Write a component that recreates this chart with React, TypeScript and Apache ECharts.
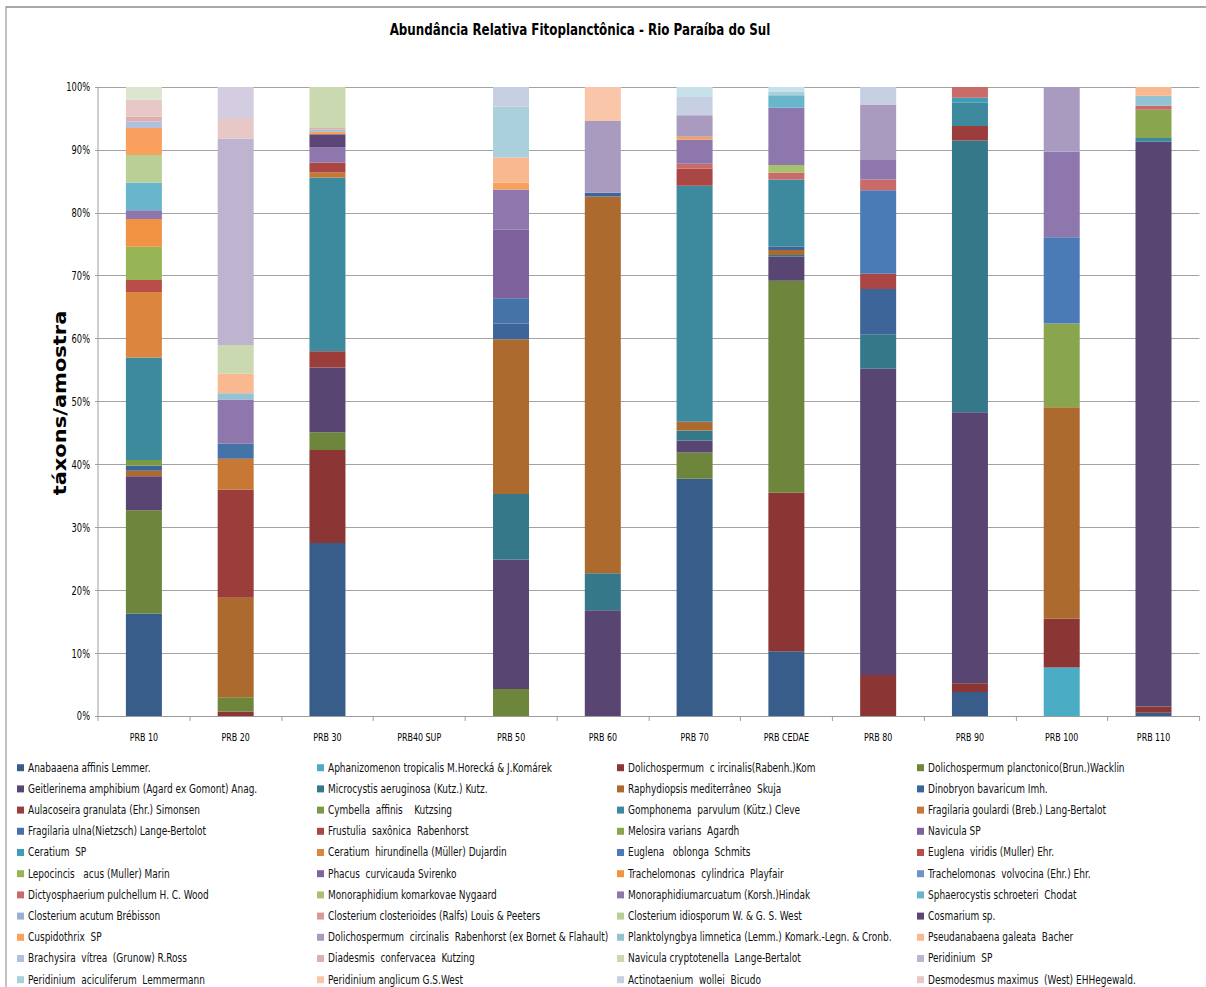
import React, { useEffect, useRef } from 'react';
import * as echarts from 'echarts';

const NARROW = "'DejaVu Sans Condensed', 'Liberation Sans Narrow', 'Noto Sans', sans-serif";

// the original figure is horizontally compressed; draw wider and squeeze
const SQUEEZE = 0.8;
const PAGE_W = 1206;
const PAGE_H = 987;
const px = (v: number) => v / SQUEEZE;

const chartTitle = 'Abundância Relativa Fitoplanctônica - Rio Paraíba do Sul';
const yAxisTitle = 'táxons/amostra';

const categories = [
  'PRB 10', 'PRB 20', 'PRB 30', 'PRB40 SUP', 'PRB 50', 'PRB 60',
  'PRB 70', 'PRB CEDAE', 'PRB 80', 'PRB 90', 'PRB 100', 'PRB 110',
];

const yTickValues = [0, 10, 20, 30, 40, 50, 60, 70, 80, 90, 100];

const speciesNames = [
  'Anabaaena affinis Lemmer.',
  'Aphanizomenon tropicalis M.Horecká & J.Komárek',
  'Dolichospermum  c ircinalis(Rabenh.)Kom',
  'Dolichospermum planctonico(Brun.)Wacklin',
  'Geitlerinema amphibium (Agard ex Gomont) Anag.',
  'Microcystis aeruginosa (Kutz.) Kutz.',
  'Raphydiopsis mediterrâneo  Skuja',
  'Dinobryon bavaricum Imh.',
  'Aulacoseira granulata (Ehr.) Simonsen',
  'Cymbella  affinis    Kutzsing',
  'Gomphonema  parvulum (Kütz.) Cleve',
  'Fragilaria goulardi (Breb.) Lang-Bertalot',
  'Fragilaria ulna(Nietzsch) Lange-Bertolot',
  'Frustulia  saxônica  Rabenhorst',
  'Melosira varians  Agardh',
  'Navicula SP',
  'Ceratium  SP',
  'Ceratium  hirundinella (Müller) Dujardin',
  'Euglena   oblonga  Schmits',
  'Euglena  viridis (Muller) Ehr.',
  'Lepocincis   acus (Muller) Marin',
  'Phacus  curvicauda Svirenko',
  'Trachelomonas  cylindrica  Playfair',
  'Trachelomonas  volvocina (Ehr.) Ehr.',
  'Dictyosphaerium pulchellum H. C. Wood',
  'Monoraphidium komarkovae Nygaard',
  'Monoraphidiumarcuatum (Korsh.)Hindak',
  'Sphaerocystis schroeteri  Chodat',
  'Closterium acutum Brébisson',
  'Closterium closterioides (Ralfs) Louis & Peeters',
  'Closterium idiosporum W. & G. S. West',
  'Cosmarium sp.',
  'Cuspidothrix  SP',
  'Dolichospermum  circinalis  Rabenhorst (ex Bornet & Flahault)',
  'Planktolyngbya limnetica (Lemm.) Komark.-Legn. & Cronb.',
  'Pseudanabaena galeata  Bacher',
  'Brachysira  vítrea  (Grunow) R.Ross',
  'Diadesmis  confervacea  Kutzing',
  'Navicula cryptotenella  Lange-Bertalot',
  'Peridinium  SP',
  'Peridinium  aciculiferum  Lemmermann',
  'Peridinium anglicum G.S.West',
  'Actinotaenium  wollei  Bicudo',
  'Desmodesmus maximus  (West) EHHegewald.',
];

// series whose legend row is cut off at the bottom of the picture
const hiddenNames = ['série 45', 'série 46', 'série 47'];

const speciesColors = [
  '#385D8A', '#4BACC6', '#8B3634', '#6D863B',
  '#584572', '#35788A', '#AD6A2E', '#3D6599',
  '#9A3D3B', '#7B9A45', '#3D8A9F', '#C77834',
  '#4572A7', '#AA4644', '#89A54E', '#7E629E',
  '#3E9EB5', '#DC853F', '#4A7BB7', '#B94D4A',
  '#98B556', '#8064A2', '#F29243', '#6F92C8',
  '#C96B69', '#A7C16F', '#8D77AC', '#69B5CC',
  '#98AFD6', '#D79A98', '#B9CF96', '#5B4677',
  '#F9A05E', '#A99BC0', '#93C3D3', '#F9B88F',
  '#B1C0DE', '#DDB0AF', '#CBD9B1', '#BFB4CF',
  '#AAD0DC', '#FAC6A9', '#C7D0E3', '#E8C7C7',
  '#DCE6CF', '#D4CDE1', '#C6E1E8',
];

// relative abundance (%) per species, columns follow `categories`
const abundance: number[][] = [
  [16.3, 0, 27.5, 0, 0, 0, 37.7, 10.3, 0, 3.8, 0, 0.5],
  [0, 0, 0, 0, 0, 0, 0, 0, 0, 0, 7.7, 0],
  [0, 0.7, 14.8, 0, 0, 0, 0, 25.2, 6.5, 1.4, 7.8, 1.0],
  [16.4, 2.3, 2.8, 0, 4.3, 0, 4.2, 33.7, 0, 0, 0, 0],
  [5.4, 0, 10.3, 0, 20.6, 16.8, 1.9, 3.8, 48.7, 43.1, 0, 89.8],
  [0, 0, 0, 0, 10.4, 5.9, 1.6, 0.3, 5.5, 43.2, 0, 0],
  [0.9, 15.8, 0, 0, 24.6, 59.9, 1.4, 0.8, 0, 0, 33.6, 0],
  [0.8, 0, 0, 0, 2.5, 0.6, 0, 0.5, 7.2, 0, 0, 0],
  [0, 17.2, 2.6, 0, 0, 0, 0, 0, 0, 2.3, 0, 0],
  [0.9, 0, 0, 0, 0, 0, 0, 0, 0, 0, 0, 0],
  [16.3, 0, 27.6, 0, 0, 0, 37.5, 10.7, 0, 3.7, 0, 0.6],
  [0, 4.9, 0.8, 0, 0, 0, 0, 0, 0, 0, 0, 0],
  [0, 2.4, 0, 0, 4.0, 0, 0, 0, 0, 0, 0, 0],
  [0, 0, 1.6, 0, 0, 0, 2.7, 0, 2.4, 0, 0, 0],
  [0, 0, 0, 0, 0, 0, 0, 0, 0, 0, 13.3, 4.5],
  [0, 0, 0, 0, 10.9, 0, 0, 0, 0, 0, 0, 0],
  [0, 0, 0, 0, 0, 0, 0, 0, 0, 0.8, 0, 0],
  [10.4, 0, 0, 0, 0, 0, 0, 0, 0, 0, 0, 0],
  [0, 0, 0, 0, 0, 0, 0, 0, 13.3, 0, 13.7, 0],
  [1.9, 0, 0, 0, 0, 0, 0, 0, 0, 0, 0, 0],
  [5.3, 0, 0, 0, 0, 0, 0, 0, 0, 0, 0, 0],
  [0, 0, 0, 0, 0, 0, 0, 0, 0, 0, 0, 0],
  [4.4, 0, 0, 0, 0, 0, 0, 0, 0, 0, 0, 0],
  [0, 0, 0, 0, 0, 0, 0, 0, 0, 0, 0, 0],
  [0, 0, 0, 0, 0, 0, 0.8, 1.1, 1.7, 1.7, 0, 0.6],
  [0, 0, 0, 0, 0, 0, 0, 1.2, 0, 0, 0, 0],
  [1.4, 7.0, 2.4, 0, 6.4, 0, 3.8, 9.1, 3.1, 0, 13.6, 0],
  [4.4, 0, 0, 0, 0, 0, 0, 2.0, 0, 0, 0, 0],
  [0, 0, 0, 0, 0, 0, 0, 0, 0, 0, 0, 0],
  [0, 0, 0, 0, 0, 0, 0, 0, 0, 0, 0, 0],
  [4.4, 0, 0, 0, 0, 0, 0, 0, 0, 0, 0, 0],
  [0, 0, 2.1, 0, 0, 0, 0, 0, 0, 0, 0, 0],
  [4.3, 0, 0.4, 0, 1.1, 0, 0.5, 0, 0, 0, 0, 0],
  [0, 0, 0, 0, 0, 11.4, 3.4, 0, 8.8, 0, 10.3, 0],
  [0, 1.0, 0.3, 0, 0, 0, 0, 0, 0, 0, 0, 1.6],
  [0, 3.1, 0, 0, 4.0, 0, 0, 0, 0, 0, 0, 1.4],
  [1.0, 0, 0, 0, 0, 0, 0, 0, 0, 0, 0, 0],
  [0.8, 0, 0.3, 0, 0, 0, 0, 0, 0, 0, 0, 0],
  [0, 4.6, 6.5, 0, 0, 0, 0, 0, 0, 0, 0, 0],
  [0, 32.8, 0, 0, 0, 0, 0, 0, 0, 0, 0, 0],
  [0, 0, 0, 0, 8.1, 0, 0, 0.6, 0, 0, 0, 0],
  [0, 0, 0, 0, 0, 5.4, 0, 0, 0, 0, 0, 0],
  [0, 0, 0, 0, 3.1, 0, 2.9, 0, 2.8, 0, 0, 0],
  [2.7, 3.1, 0, 0, 0, 0, 0, 0, 0, 0, 0, 0],
  [2.0, 0, 0, 0, 0, 0, 0, 0, 0, 0, 0, 0],
  [0, 5.1, 0, 0, 0, 0, 0, 0, 0, 0, 0, 0],
  [0, 0, 0, 0, 0, 0, 1.6, 0.7, 0, 0, 0, 0],
];

export default function App() {
  const ref = useRef<HTMLDivElement>(null);

  useEffect(() => {
    if (!ref.current) return;
    const chart = echarts.init(ref.current, null, { renderer: 'svg' });
    const allNames = [...speciesNames, ...hiddenNames];

    const series = allNames.map((name, i) => ({
      name,
      type: 'bar',
      stack: 'total',
      barWidth: px(36),
      data: abundance[i],
      itemStyle: { color: speciesColors[i] },
      emphasis: { disabled: true },
    }));

    const legends = [0, 1, 2, 3].map((c) => ({
      orient: 'vertical',
      left: px(17 + 300 * c),
      top: 760.7,
      itemWidth: px(7),
      itemHeight: 7,
      itemGap: 7.2,
      icon: 'rect',
      padding: 0,
      selectedMode: false,
      textStyle: { fontFamily: NARROW, fontSize: 12.5, color: '#111', lineHeight: 14 },
      data: speciesNames.filter((_, i) => i % 4 === c),
    }));

    chart.setOption({
      animation: false,
      backgroundColor: '#ffffff',
      grid: { left: px(98), right: px(7), top: 87, bottom: 271, containLabel: false },
      legend: legends,
      xAxis: {
        type: 'category',
        data: categories,
        axisLine: { lineStyle: { color: '#9A9A9A', width: 1 } },
        axisTick: { show: true, length: 5, lineStyle: { color: '#9A9A9A', width: 1.2 } },
        axisLabel: { fontFamily: NARROW, fontSize: 11, color: '#000', margin: 16, interval: 0 },
      },
      yAxis: {
        type: 'value',
        min: 0,
        max: 100,
        interval: 10,
        axisLine: { show: true, lineStyle: { color: '#9A9A9A', width: 1.2 } },
        axisTick: { show: true, length: px(3), lineStyle: { color: '#9A9A9A' } },
        splitLine: { lineStyle: { color: '#A3A3A3', width: 1.2 } },
        axisLabel: {
          fontFamily: NARROW,
          fontSize: 11.5,
          color: '#000',
          margin: px(8),
          formatter: (v: number) => (yTickValues.includes(v) ? `${v}%` : ''),
        },
      },
      graphic: [
        {
          type: 'rect',
          silent: true,
          shape: { x: px(6), y: 7, width: px(1260), height: 1100 },
          style: { fill: 'none', stroke: '#8C8C8C', lineWidth: 1.3 },
          z: -1,
        },
        {
          type: 'text',
          x: px(580),
          y: 29,
          style: {
            text: chartTitle,
            fontFamily: NARROW,
            fontWeight: 'bold',
            fontSize: 16.5,
            fill: '#000',
            align: 'center',
            verticalAlign: 'middle',
          },
        },
        {
          type: 'text',
          x: px(60),
          y: 403,
          rotation: Math.PI / 2,
          style: {
            text: yAxisTitle,
            fontFamily: "'DejaVu Sans', sans-serif",
            fontWeight: 'bold',
            fontSize: 21,
            fill: '#000',
            align: 'center',
            verticalAlign: 'middle',
          },
        },
      ],
      series,
    });

    return () => chart.dispose();
  }, []);

  return (
    <div
      ref={ref}
      style={{
        position: 'fixed',
        left: 0,
        top: 0,
        width: PAGE_W / SQUEEZE,
        height: PAGE_H,
        background: '#fff',
        transform: `scaleX(${SQUEEZE})`,
        transformOrigin: '0 0',
      }}
    />
  );
}
